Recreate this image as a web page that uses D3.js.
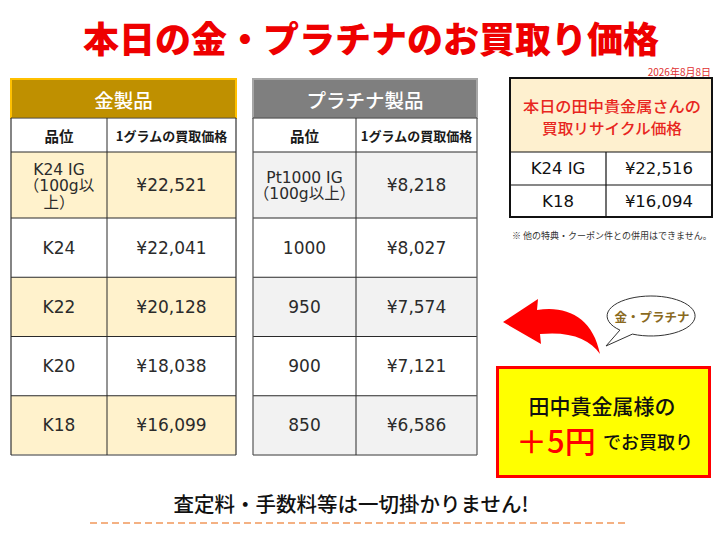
<!DOCTYPE html>
<html><head><meta charset="utf-8">
<script src="https://cdn.jsdelivr.net/npm/d3@7"></script>
<style>html,body{margin:0;padding:0;background:#fff;}svg{display:block;}</style>
</head><body>
<svg id="chart" width="722" height="540"></svg>
<script>
// ---- data ----
const titleText = "本日の金・プラチナのお買取り価格";
const dateText = "2026年8月8日";
const colHeaders = ["品位", "1グラムの買取価格"];
const goldTitle = "金製品";
const goldGrades = [["K24 IG", "（100g以", "上）"], ["K24"], ["K22"], ["K20"], ["K18"]];
const goldPrices = [22521, 22041, 20128, 18038, 16099];
const ptTitle = "プラチナ製品";
const ptGrades = [["Pt1000 IG", "（100g以上）"], ["1000"], ["950"], ["900"], ["850"]];
const ptPrices = [8218, 8027, 7574, 7121, 6586];
const recycleTitle = ["本日の田中貴金属さんの", "買取リサイクル価格"];
const recycleGrades = ["K24 IG", "K18"];
const recyclePrices = [22516, 16094];
const noteText = "※ 他の特典・クーポン件との併用はできません。";
const bubbleText = "金・プラチナ";
const promoLine1 = "田中貴金属様の";
const promoBig = "＋5円";
const promoSmall = "でお買取り";
const footerText = "査定料・手数料等は一切掛かりません!";

const fmt = v => "¥" + d3.format(",")(v);
const latin = "'DejaVu Sans','Noto Sans CJK JP',sans-serif";
const jp = "'Noto Sans CJK JP',sans-serif";

const svg = d3.select("#chart");
svg.append("rect").attr("width", 722).attr("height", 540).attr("fill", "#fff");

// Title
svg.append("text").attr("x", 371).attr("y", 37)
  .attr("text-anchor", "middle").attr("dominant-baseline", "central")
  .attr("font-family", jp).attr("font-weight", 900).attr("font-size", 36)
  .attr("fill", "#EE0000").text(titleText);

// Date
svg.append("text").attr("x", 711).attr("y", 76).attr("text-anchor", "end")
  .attr("font-family", jp).attr("font-size", 10).attr("fill", "#E03030").text(dateText);

// ---- price tables ----
function drawTable(cfg) {
  const g = svg.append("g");
  const colX = d3.scaleLinear().domain([0, 1, 2]).range(cfg.cols);
  const rowY = d3.scaleLinear().domain([0, 1, 5]).range([152, 218, 455]);
  const x0 = colX(0), x2 = colX(2);
  // header bar
  g.append("rect").attr("x", x0).attr("y", 79).attr("width", x2 - x0).attr("height", 39)
    .attr("fill", cfg.headFill).attr("stroke", cfg.headStroke).attr("stroke-width", 2);
  g.append("text").attr("x", (x0 + x2) / 2).attr("y", 99)
    .attr("text-anchor", "middle").attr("dominant-baseline", "central")
    .attr("font-family", jp).attr("font-size", 19.5).attr("font-weight", 500)
    .attr("fill", "#fff").text(cfg.title);
  // column header row
  g.append("rect").attr("x", x0).attr("y", 118).attr("width", x2 - x0).attr("height", 34).attr("fill", "#fff");
  colHeaders.forEach((h, i) => {
    g.append("text").attr("x", (colX(i) + colX(i + 1)) / 2).attr("y", 135)
      .attr("text-anchor", "middle").attr("dominant-baseline", "central")
      .attr("font-family", jp).attr("font-weight", 700)
      .attr("font-size", i === 0 ? 14.5 : 13).attr("fill", "#1a1a1a").text(h);
  });
  // data rows
  const rows = cfg.grades.map((gr, i) => ({ grade: gr, price: cfg.prices[i], i }));
  const rg = g.selectAll("g.row").data(rows).join("g").attr("class", "row");
  rg.append("rect").attr("x", x0).attr("y", d => rowY(d.i))
    .attr("width", x2 - x0).attr("height", d => rowY(d.i + 1) - rowY(d.i))
    .attr("fill", d => d.i % 2 === 0 ? cfg.altFill : "#fff");
  rg.each(function (d) {
    const cy = (rowY(d.i) + rowY(d.i + 1)) / 2;
    const n = d.grade.length, lh = 16.5;
    d.grade.forEach((ln, k) => {
      d3.select(this).append("text").attr("x", (colX(0) + colX(1)) / 2)
        .attr("y", cy + (k - (n - 1) / 2) * lh + (n > 1 ? 1 : 0))
        .attr("text-anchor", "middle").attr("dominant-baseline", "central")
        .attr("font-family", latin).attr("font-size", n > 1 ? 15.5 : 17).attr("fill", "#2b2b2b").text(ln);
    });
    d3.select(this).append("text").attr("x", (colX(1) + colX(2)) / 2).attr("y", cy)
      .attr("text-anchor", "middle").attr("dominant-baseline", "central")
      .attr("font-family", latin).attr("font-size", 17).attr("fill", "#2b2b2b").text(fmt(d.price));
  });
  // grid lines
  const lineC = "#2a2a2a";
  [118, 152].concat(d3.range(1, 5).map(rowY)).forEach(y => {
    g.append("line").attr("x1", x0).attr("x2", x2).attr("y1", y).attr("y2", y)
      .attr("stroke", lineC).attr("stroke-width", 1);
  });
  g.append("line").attr("x1", x0).attr("x2", x2).attr("y1", rowY(5)).attr("y2", rowY(5))
    .attr("stroke", "#777").attr("stroke-width", 1.5);
  [0, 1, 2].forEach(c => {
    g.append("line").attr("x1", colX(c)).attr("x2", colX(c)).attr("y1", 118).attr("y2", rowY(5))
      .attr("stroke", c === 1 ? lineC : cfg.sideStroke).attr("stroke-width", c === 1 ? 1 : 1.2);
  });
}

drawTable({ cols: [11, 107, 236], title: goldTitle, grades: goldGrades, prices: goldPrices,
  headFill: "#BF9000", headStroke: "#FFC000", altFill: "#FFF2CC", sideStroke: "#333" });
drawTable({ cols: [253, 356, 477], title: ptTitle, grades: ptGrades, prices: ptPrices,
  headFill: "#7F7F7F", headStroke: "#A6A6A6", altFill: "#F2F2F2", sideStroke: "#555" });

// ---- recycle box ----
(function () {
  const g = svg.append("g");
  const colX = d3.scaleLinear().domain([0, 1, 2]).range([510, 606, 712]);
  const rowY = d3.scaleLinear().domain([0, 1, 2]).range([152, 185, 217]);
  g.append("rect").attr("x", colX(0)).attr("y", 78).attr("width", colX(2) - colX(0)).attr("height", 74)
    .attr("fill", "#FEF0CF");
  const titleLens = [178, 140];
  recycleTitle.forEach((t, k) => {
    g.append("text").attr("x", 612).attr("y", 105 + k * 22)
      .attr("text-anchor", "middle").attr("dominant-baseline", "central")
      .attr("font-family", jp).attr("font-size", 15).attr("font-weight", 500)
      .attr("textLength", titleLens[k]).attr("lengthAdjust", "spacingAndGlyphs")
      .attr("fill", "#E8261E").text(t);
  });
  recycleGrades.forEach((gr, i) => {
    const cy = (rowY(i) + rowY(i + 1)) / 2;
    g.append("text").attr("x", (colX(0) + colX(1)) / 2).attr("y", cy)
      .attr("text-anchor", "middle").attr("dominant-baseline", "central")
      .attr("font-family", latin).attr("font-size", 16.5).attr("fill", "#111").text(gr);
    g.append("text").attr("x", (colX(1) + colX(2)) / 2).attr("y", cy)
      .attr("text-anchor", "middle").attr("dominant-baseline", "central")
      .attr("font-family", latin).attr("font-size", 16.5).attr("fill", "#111").text(fmt(recyclePrices[i]));
    g.append("line").attr("x1", colX(0)).attr("x2", colX(2)).attr("y1", rowY(i)).attr("y2", rowY(i))
      .attr("stroke", "#111").attr("stroke-width", 1.2);
  });
  g.append("line").attr("x1", colX(1)).attr("x2", colX(1)).attr("y1", rowY(0)).attr("y2", rowY(2))
    .attr("stroke", "#111").attr("stroke-width", 1.2);
  g.append("rect").attr("x", colX(0)).attr("y", 78).attr("width", colX(2) - colX(0)).attr("height", rowY(2) - 78)
    .attr("fill", "none").attr("stroke", "#111").attr("stroke-width", 2);
  g.append("text").attr("x", 512).attr("y", 235).attr("dominant-baseline", "central")
    .attr("font-family", jp).attr("font-size", 9).attr("fill", "#333").text(noteText);
})();

// ---- arrow ----
svg.append("path")
  .attr("d", "M503,322 L538,299 L537,310 C567,305 593,318 600,354 C590,339 570,331 540,334 L541,344 Z")
  .attr("fill", "#FF0000");

// ---- speech bubble ----
svg.append("path")
  .attr("d", "M619.9,330.1 L606,346 L632.4,334.1 A44,20 0 1 0 619.9,330.1 Z")
  .attr("fill", "#fff").attr("stroke", "#333").attr("stroke-width", 1);
svg.append("text").attr("x", 652).attr("y", 316)
  .attr("text-anchor", "middle").attr("dominant-baseline", "central")
  .attr("font-family", jp).attr("font-weight", 700)
  .attr("font-size", 12.5).attr("fill", "#8A6A1E").text(bubbleText);

// ---- promo box ----
svg.append("rect").attr("x", 497.5).attr("y", 367.5).attr("width", 212).attr("height", 109)
  .attr("fill", "#FFFF00").attr("stroke", "#FF0000").attr("stroke-width", 3);
svg.append("text").attr("x", 602).attr("y", 405)
  .attr("text-anchor", "middle").attr("dominant-baseline", "central")
  .attr("font-family", jp).attr("font-size", 21).attr("font-weight", 500)
  .attr("fill", "#111").text(promoLine1);
svg.append("text").attr("x", 516).attr("y", 439).attr("dominant-baseline", "central")
  .attr("font-family", jp).attr("font-size", 31).attr("font-weight", 500)
  .attr("fill", "#FF0000").text(promoBig);
svg.append("text").attr("x", 603).attr("y", 441).attr("dominant-baseline", "central")
  .attr("font-family", jp).attr("font-size", 18).attr("font-weight", 500)
  .attr("fill", "#111").text(promoSmall);

// ---- footer ----
svg.append("text").attr("x", 351).attr("y", 503)
  .attr("text-anchor", "middle").attr("dominant-baseline", "central")
  .attr("font-family", jp).attr("font-size", 20.5).attr("font-weight", 500)
  .attr("fill", "#111").text(footerText);
svg.append("line").attr("x1", 90).attr("x2", 626).attr("y1", 523).attr("y2", 523)
  .attr("stroke", "#F4B183").attr("stroke-width", 2).attr("stroke-dasharray", "7,4");
</script>
</body></html>
